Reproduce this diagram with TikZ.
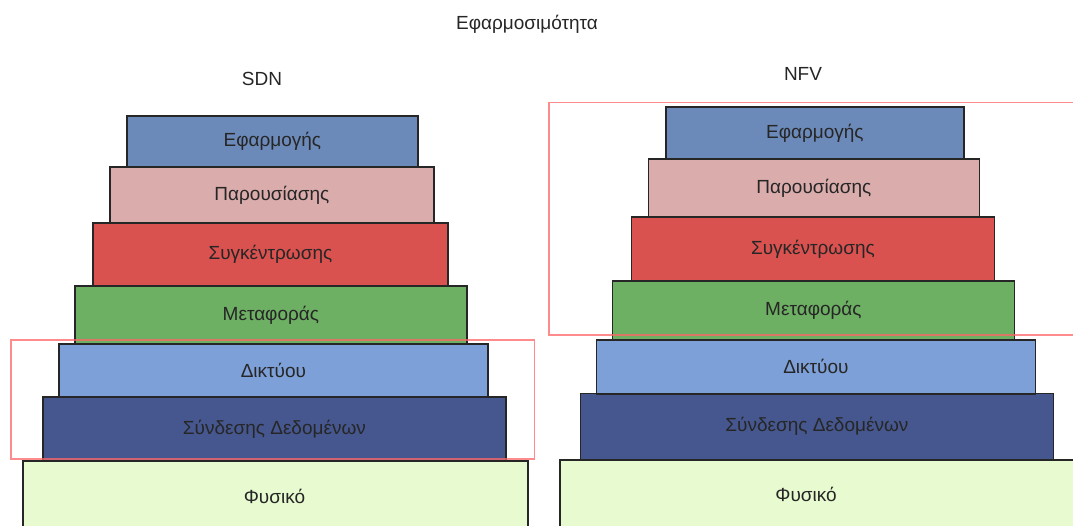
\documentclass[tikz,border=0pt]{standalone}
\usepackage{fontspec}
\setmainfont{Liberation Sans}
\begin{document}
\begin{tikzpicture}[x=1pt,y=-1pt,
  layer/.style={draw=black!85, line width=1.8pt, anchor=north west, inner sep=0pt,
    text=black!85, font=\fontsize{19}{22}\selectfont},
  focus/.style={draw=red!60!white, draw opacity=0.75, line width=1.6pt, fill=none},
  label/.style={text=black!85, font=\fontsize{19}{22}\selectfont}]
\definecolor{cApp}{HTML}{6C8AB9}
\definecolor{cPres}{HTML}{DAACAB}
\definecolor{cSess}{HTML}{D9524F}
\definecolor{cTrans}{HTML}{6DAF63}
\definecolor{cNet}{HTML}{7EA0D8}
\definecolor{cLink}{HTML}{45578E}
\definecolor{cPhys}{HTML}{E8FAD0}
\useasboundingbox (0,0) rectangle (1073,526);

\node[label] (title) at (527,24) {Εφαρμοσιμότητα};
\node[label] (sdn) at (262,79) {SDN};
\node[label] (nfv) at (803,74) {NFV};

\begin{scope}
\clip (0,0) rectangle (1073,526);
% SDN stack
\node[layer, fill=cPhys, minimum width=505, minimum height=80] (sphy) at (22,460) {};
\node[label] (sphylbl) at (274.5,496) {Φυσικό};
\node[layer, fill=cLink, minimum width=463, minimum height=64] (slink) at (42,396) {Σύνδεσης Δεδομένων};
\node[layer, fill=cNet, minimum width=429, minimum height=53] (snet) at (58,343) {Δικτύου};
\node[layer, fill=cTrans, minimum width=392, minimum height=58] (strans) at (74,285) {Μεταφοράς};
\node[layer, fill=cSess, minimum width=355, minimum height=63] (ssess) at (92,222) {Συγκέντρωσης};
\node[layer, fill=cPres, minimum width=324, minimum height=56] (spres) at (109,166) {Παρουσίασης};
\node[layer, fill=cApp, minimum width=291, minimum height=51] (sapp) at (126,115) {Εφαρμογής};
\draw[focus] (11,340) rectangle (534.5,459);

% NFV stack
\node[layer, fill=cPhys, minimum width=530, minimum height=80] (nphy) at (559,459) {};
\node[label] (nphylbl) at (806,494) {Φυσικό};
\node[layer, fill=cLink, minimum width=473, minimum height=66] (nlink) at (579.5,392.5) {Σύνδεσης Δεδομένων};
\node[layer, fill=cNet, minimum width=439, minimum height=54] (nnet) at (595.5,339) {Δικτύου};
\node[layer, fill=cTrans, minimum width=402, minimum height=59] (ntrans) at (611.5,280) {Μεταφοράς};
\node[layer, fill=cSess, minimum width=363, minimum height=64] (nsess) at (630.5,216) {Συγκέντρωσης};
\node[layer, fill=cPres, minimum width=331, minimum height=58] (npres) at (647.5,158) {Παρουσίασης};
\node[layer, fill=cApp, minimum width=298, minimum height=52] (napp) at (665,106) {Εφαρμογής};
\draw[focus] (1080,102.7) -- (549,102.7) -- (549,335.3) -- (1080,335.3);
\end{scope}
\end{tikzpicture}
\end{document}
